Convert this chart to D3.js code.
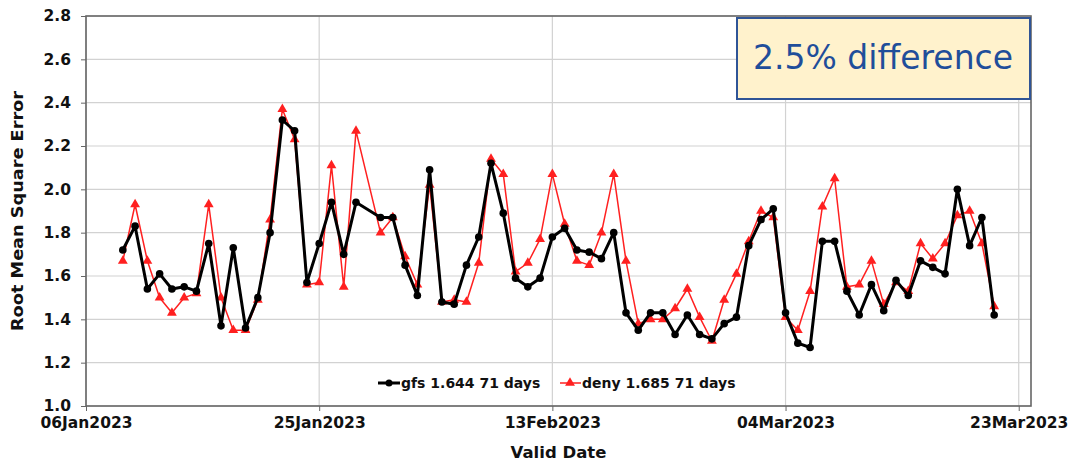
<!DOCTYPE html>
<html>
<head>
<meta charset="utf-8">
<script src="https://cdn.jsdelivr.net/npm/d3@7"></script>
<style>
  html, body { margin: 0; padding: 0; background: #ffffff; }
  svg { display: block; }
  text { font-family: "DejaVu Sans", sans-serif; }
</style>
</head>
<body>
<div id="chart"></div>
<script>
// ---------------- data ----------------
const dates = [
  "2023-01-09","2023-01-10","2023-01-11","2023-01-12","2023-01-13","2023-01-14","2023-01-15",
  "2023-01-16","2023-01-17","2023-01-18","2023-01-19","2023-01-20","2023-01-21","2023-01-22",
  "2023-01-23","2023-01-24","2023-01-25","2023-01-26","2023-01-27","2023-01-28",
  "2023-01-30","2023-01-31",
  "2023-02-01","2023-02-02","2023-02-03","2023-02-04","2023-02-05","2023-02-06","2023-02-07",
  "2023-02-08","2023-02-09","2023-02-10","2023-02-11","2023-02-12","2023-02-13","2023-02-14",
  "2023-02-15","2023-02-16","2023-02-17","2023-02-18","2023-02-19","2023-02-20","2023-02-21",
  "2023-02-22","2023-02-23","2023-02-24","2023-02-25","2023-02-26","2023-02-27","2023-02-28",
  "2023-03-01","2023-03-02","2023-03-03","2023-03-04","2023-03-05","2023-03-06","2023-03-07",
  "2023-03-08","2023-03-09","2023-03-10","2023-03-11","2023-03-12","2023-03-13","2023-03-14",
  "2023-03-15","2023-03-16","2023-03-17","2023-03-18","2023-03-19","2023-03-20","2023-03-21"
];
const gfs = [
  1.72,1.83,1.54,1.61,1.54,1.55,1.53,1.75,1.37,1.73,1.36,1.50,1.80,2.32,2.27,1.57,1.75,1.94,1.70,1.94,
  1.87,1.87,
  1.65,1.51,2.09,1.48,1.47,1.65,1.78,2.12,1.89,1.59,1.55,1.59,1.78,1.82,1.72,1.71,1.68,1.80,1.43,
  1.35,1.43,1.43,1.33,1.42,1.33,1.31,1.38,1.41,
  1.74,1.86,1.91,1.43,1.29,1.27,1.76,1.76,1.53,1.42,1.56,1.44,1.58,1.51,1.67,1.64,1.61,2.00,1.74,1.87,1.42
];
const deny = [
  1.67,1.93,1.67,1.50,1.43,1.50,1.52,1.93,1.50,1.35,1.35,1.49,1.86,2.37,2.23,1.56,1.57,2.11,1.55,2.27,
  1.80,1.87,
  1.69,1.56,2.02,1.48,1.49,1.48,1.66,2.14,2.07,1.62,1.66,1.77,2.07,1.84,1.67,1.65,1.80,2.07,1.67,
  1.38,1.40,1.40,1.45,1.54,1.41,1.30,1.49,1.61,
  1.76,1.90,1.87,1.41,1.35,1.53,1.92,2.05,1.55,1.56,1.67,1.47,1.57,1.53,1.75,1.68,1.75,1.88,1.90,1.75,1.46
];
const xTickDates = ["2023-01-06","2023-01-25","2023-02-13","2023-03-04","2023-03-23"];
const yTicks = [1.0,1.2,1.4,1.6,1.8,2.0,2.2,2.4,2.6,2.8];
const xDomain = ["2023-01-06","2023-03-24"];
const yDomain = [1.0, 2.8];
const seriesNames = ["gfs 1.644 71 days", "deny 1.685 71 days"];
const annotationText = "2.5% difference";

// ---------------- layout ----------------
const W = 1075, H = 461;
const mLeft = 86, mRight = 1031, mTop = 16, mBottom = 406;
const parse = d3.utcParse("%Y-%m-%d");
const fmt = d3.utcFormat("%d%b%Y");

const svg = d3.select("#chart").append("svg").attr("width", W).attr("height", H);

const x = d3.scaleUtc().domain(xDomain.map(parse)).range([mLeft, mRight]);
const y = d3.scaleLinear().domain(yDomain).range([mBottom, mTop]);

// grid
svg.append("g").selectAll("line").data(yTicks).join("line")
  .attr("x1", mLeft).attr("x2", mRight)
  .attr("y1", d => y(d)).attr("y2", d => y(d))
  .attr("stroke", "#d2d2d2").attr("stroke-width", 1.2);
svg.append("g").selectAll("line").data(xTickDates.map(parse)).join("line")
  .attr("x1", d => x(d)).attr("x2", d => x(d))
  .attr("y1", mTop).attr("y2", mBottom)
  .attr("stroke", "#d2d2d2").attr("stroke-width", 1.2);

// axes
const yAxis = d3.axisLeft(y).tickValues(yTicks).tickFormat(d3.format(".1f")).tickSize(5).tickPadding(10);
const gy = svg.append("g").attr("transform", `translate(${mLeft},0)`).call(yAxis);
gy.select(".domain").remove();
gy.selectAll(".tick line").attr("stroke", "#666");
gy.selectAll("text").attr("font-size", 15.5).attr("font-weight", "bold").attr("fill", "#111")
  .attr("font-family", "DejaVu Sans");

const xAxis = d3.axisBottom(x).tickValues(xTickDates.map(parse)).tickFormat(fmt).tickSize(5).tickPadding(6);
const gx = svg.append("g").attr("transform", `translate(0,${mBottom})`).call(xAxis);
gx.select(".domain").remove();
gx.selectAll(".tick line").attr("stroke", "#666");
gx.selectAll("text").attr("font-size", 15.5).attr("font-weight", "bold").attr("fill", "#111")
  .attr("font-family", "DejaVu Sans");

// frame
svg.append("rect").attr("x", mLeft).attr("y", mTop).attr("width", mRight - mLeft).attr("height", mBottom - mTop)
  .attr("fill", "none").attr("stroke", "#666").attr("stroke-width", 1.6);

// axis titles
svg.append("text").attr("x", (mLeft + mRight) / 2).attr("y", 458).attr("text-anchor", "middle")
  .attr("font-size", 16.5).attr("font-weight", "bold").attr("fill", "#111").text("Valid Date");
svg.append("text").attr("transform", `translate(23,${(mTop + mBottom) / 2}) rotate(-90)`)
  .attr("text-anchor", "middle").attr("font-size", 15).attr("font-weight", "bold").attr("fill", "#111")
  .attr("textLength", 240).attr("lengthAdjust", "spacingAndGlyphs")
  .text("Root Mean Square Error");

// series
const pts = (vals) => vals.map((v, i) => ({ d: parse(dates[i]), v }));
const line = d3.line().x(p => x(p.d)).y(p => y(p.v));
const tri = d3.symbol().type(d3.symbolTriangle).size(42);

const denyPts = pts(deny);
svg.append("path").datum(denyPts).attr("d", line).attr("fill", "none")
  .attr("stroke", "#ff2020").attr("stroke-width", 1.5).attr("stroke-linejoin", "round");
svg.append("g").selectAll("path").data(denyPts).join("path")
  .attr("d", tri).attr("transform", p => `translate(${x(p.d)},${y(p.v)})`).attr("fill", "#ff2020");

const gfsPts = pts(gfs);
svg.append("path").datum(gfsPts).attr("d", line).attr("fill", "none")
  .attr("stroke", "#000").attr("stroke-width", 3).attr("stroke-linejoin", "round");
svg.append("g").selectAll("circle").data(gfsPts).join("circle")
  .attr("cx", p => x(p.d)).attr("cy", p => y(p.v)).attr("r", 3.8).attr("fill", "#000");

// legend
const lg = svg.append("g");
const ly = 383;
lg.append("line").attr("x1", 378).attr("x2", 400).attr("y1", ly).attr("y2", ly).attr("stroke", "#000").attr("stroke-width", 3);
lg.append("circle").attr("cx", 389).attr("cy", ly).attr("r", 3.5).attr("fill", "#000");
lg.append("text").attr("x", 401).attr("y", ly + 5).attr("font-size", 14).attr("font-weight", "bold")
  .attr("fill", "#111").text(seriesNames[0]);
lg.append("line").attr("x1", 560).attr("x2", 581).attr("y1", ly).attr("y2", ly).attr("stroke", "#ff2020").attr("stroke-width", 1.5);
lg.append("path").attr("d", tri).attr("transform", `translate(570,${ly})`).attr("fill", "#ff2020");
lg.append("text").attr("x", 582).attr("y", ly + 5).attr("font-size", 14).attr("font-weight", "bold")
  .attr("fill", "#111").text(seriesNames[1]);

// annotation box
svg.append("rect").attr("x", 737).attr("y", 18).attr("width", 293).attr("height", 81)
  .attr("fill", "#fff2cc").attr("stroke", "#2f5496").attr("stroke-width", 2);
svg.append("text").attr("x", 883).attr("y", 69).attr("text-anchor", "middle")
  .attr("font-family", "Liberation Sans, Arial, sans-serif").attr("font-size", 33)
  .attr("fill", "#1f4e9a").text(annotationText);
</script>
</body>
</html>
